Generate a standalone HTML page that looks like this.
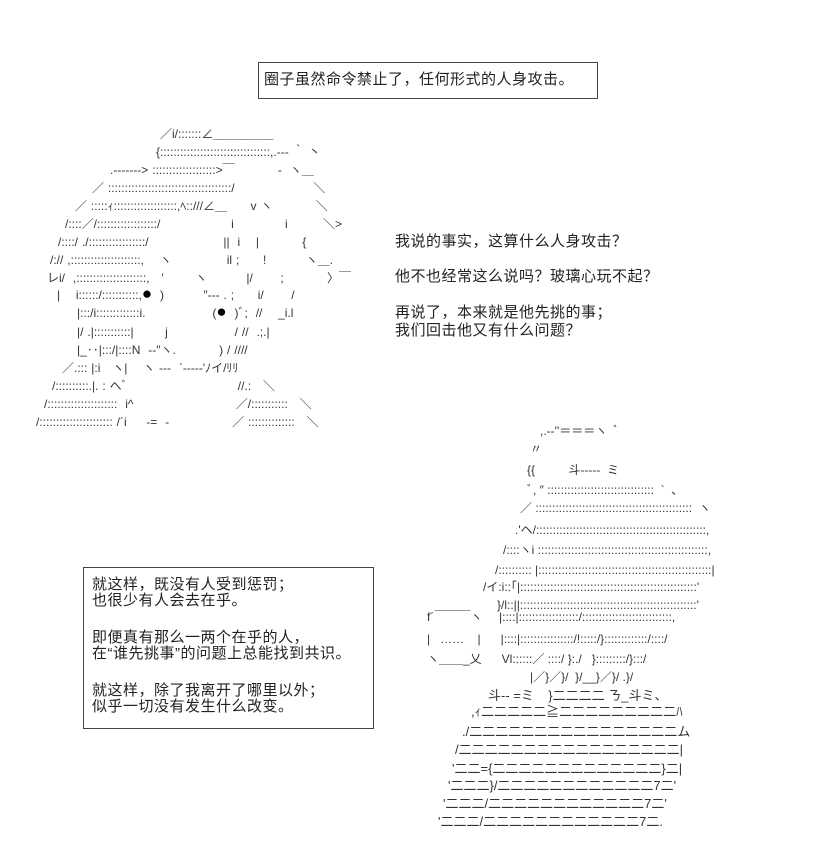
<!DOCTYPE html>
<html><head><meta charset="utf-8"><style>
html,body{margin:0;padding:0;background:#fff;}
body{width:813px;height:856px;position:relative;overflow:hidden;font-family:"Liberation Sans","Noto Sans CJK SC",sans-serif;color:#222;}
.box{position:absolute;border:1px solid #444;}
.t{position:absolute;font-size:15px;letter-spacing:0.5px;white-space:nowrap;line-height:18px;}
.aa{position:absolute;font-size:12px;white-space:pre;line-height:18px;font-family:"Liberation Sans","Noto Sans CJK JP",sans-serif;color:#333;}
.aa div{position:absolute;white-space:pre;}
.f1 div{word-spacing:0.6px;}
.f2 div.b{font-size:13px;}
.eye{font-size:17px;color:#000;}
</style></head><body>
<div class="box" style="left:258px;top:62px;width:338px;height:35px;"></div>
<div class="t" style="left:264px;top:71px;">圈子虽然命令禁止了，任何形式的人身攻击。</div>

<div class="t" style="left:395px;top:233px;">我说的事实，这算什么人身攻击？</div>
<div class="t" style="left:395px;top:268px;">他不也经常这么说吗？玻璃心玩不起？</div>
<div class="t" style="left:395px;top:304px;">再说了，本来就是他先挑的事；</div>
<div class="t" style="left:395px;top:322px;">我们回击他又有什么问题？</div>

<div class="box" style="left:83px;top:567px;width:289px;height:160px;"></div>
<div class="t" style="left:92px;top:576px;">就这样，既没有人受到惩罚；</div>
<div class="t" style="left:92px;top:592px;">也很少有人会去在乎。</div>
<div class="t" style="left:92px;top:629px;">即便真有那么一两个在乎的人，</div>
<div class="t" style="left:92px;top:645px;">在“谁先挑事”的问题上总能找到共识。</div>
<div class="t" style="left:92px;top:682px;">就这样，除了我离开了哪里以外；</div>
<div class="t" style="left:92px;top:698px;">似乎一切没有发生什么改变。</div>

<div class="aa f1" style="left:0;top:0;">
<div style="left:160px;top:125px;">／i/:::::::∠＿＿＿＿＿</div>
<div style="left:156px;top:143px;">{:::::::::::::::::::::::::::::::::,.-‐‐ ｀ 丶</div>
<div style="left:110px;top:161px;">.-‐‐‐‐‐-&gt; :::::::::::::::::::&gt;￣           -  ヽ＿</div>
<div style="left:92px;top:179px;">／ :::::::::::::::::::::::::::::::::::::/                    ＼</div>
<div style="left:75px;top:197px;">／ :::::ｨ:::::::::::::::::::,ﾍ::///∠＿      v ヽ           ＼</div>
<div style="left:65px;top:215px;">/::::／/::::::::::::::::::/                  i             i         ＼&gt;</div>
<div style="left:58px;top:233px;">/::::/ ./:::::::::::::::::/                   ||  i    |           {</div>
<div style="left:50px;top:251px;">/:// ,:::::::::::::::::::::,    ヽ              il ;      !          ヽ＿.</div>
<div style="left:47px;top:269px;">レi/  ,:::::::::::::::::::::,   ′        ヽ          |/       ;           〉￣</div>
<div style="left:57px;top:285px;">|    i::::::/:::::::::::,<span class="eye">●</span>  )          ″‐‐‐ . ;      i/       /</div>
<div style="left:77px;top:303px;">|:::/i:::::::::::::i.                 (<span class="eye">●</span>  )ﾞ;  //    _i.l</div>
<div style="left:77px;top:323px;">|/ .|:::::::::::|        j                 / //  .;.|</div>
<div style="left:77px;top:341px;">|_‥|:::/|::::N  -‐″ヽ.           ) / ////</div>
<div style="left:62px;top:359px;">／.::: |:i   ヽ|    ヽ ‐‐‐  `‐‐‐‐‐'ﾉイ/ﾘﾘ</div>
<div style="left:52px;top:377px;">/::::::::::.|. : へﾞ                            //.:   ＼</div>
<div style="left:44px;top:395px;">/:::::::::::::::::::::  i^                          ／/:::::::::::   ＼</div>
<div style="left:36px;top:413px;">/:::::::::::::::::::::: /´i     -=  -                ／ ::::::::::::::   ＼</div>
</div>

<div class="aa f2" style="left:0;top:0;">
<div style="left:540px;top:422px;">,.-‐''＝＝＝ヽ  ﾞ</div>
<div style="left:530px;top:440px;">〃</div>
<div style="left:527px;top:461px;">{{          斗‐‐‐‐‐  ミ</div>
<div style="left:527px;top:481px;">ﾞ, ″ ::::::::::::::::::::::::::::::::  `  、</div>
<div style="left:520px;top:499px;">／ :::::::::::::::::::::::::::::::::::::::::::::::  ヽ</div>
<div style="left:515px;top:521px;">.'ヘ/:::::::::::::::::::::::::::::::::::::::::::::::::::,</div>
<div style="left:503px;top:541px;">/::::ヽi :::::::::::::::::::::::::::::::::::::::::::::::::::,</div>
<div style="left:495px;top:561px;">/:::::::::: |::::::::::::::::::::::::::::::::::::::::::::::::::::|</div>
<div style="left:483px;top:578px;">/イ:i::｢|:::::::::::::::::::::::::::::::::::::::::::::::::::::'</div>
<div style="left:497px;top:596px;">}/l::||:::::::::::::::::::::::::::::::::::::::::::::::::::::'</div>
<div style="left:427px;top:608px;">f´￣￣￣ヽ     |::::|::::::::::::::::::/:::::::::::::::::::::::::::,</div>
<div style="left:427px;top:630px;">|   ……    |      |::::|::::::::::::::::/!:::::/}:::::::::::::/::::/</div>
<div style="left:427px;top:650px;">ヽ＿＿_乂      Vl::::::／ ::::/ }:./   }:::::::::/}:::/</div>
<div style="left:530px;top:668px;">|／}／}/  }/__}／}/ .}/</div>
<div class="b" style="left:488px;top:687px;">斗-- =ミ    }二二二二 ㄋ_斗ミ、</div>
<div class="b" style="left:471px;top:703px;">,ｨ二二二二二≧二二二二二二二二二ﾊ</div>
<div class="b" style="left:462px;top:723px;">./二二二二二二二二二二二二二二二二ム</div>
<div class="b" style="left:455px;top:741px;">/二二二二二二二二二二二二二二二二二|</div>
<div class="b" style="left:452px;top:760px;">'二二={二二二二二二二二二二二二二}二|</div>
<div class="b" style="left:448px;top:777px;">'二二二}/二二二二二二二二二二二二7二'</div>
<div class="b" style="left:443px;top:795px;">'二二二/二二二二二二二二二二二二7二'</div>
<div class="b" style="left:438px;top:813px;">'二二二/二二二二二二二二二二二二7二.</div>
</div>
</body></html>
